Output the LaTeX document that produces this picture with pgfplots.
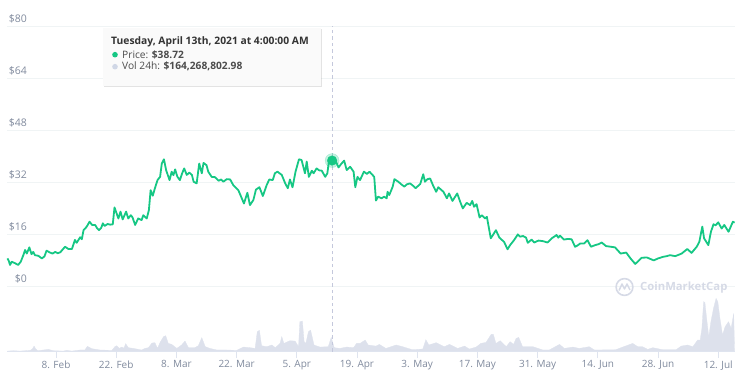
\documentclass[border=0pt]{standalone}
\usepackage{pgfplots}
\usepackage{fontspec}
\setmainfont{Open Sans}
\pgfplotsset{compat=1.18}
\usetikzlibrary{shadows}
\definecolor{cmcgreen}{HTML}{16C784}
\definecolor{axgray}{HTML}{808A9D}
\definecolor{gridc}{HTML}{F0F4F5}
\definecolor{volc}{HTML}{DDE1EC}
\definecolor{tickc}{HTML}{DFE4EF}
\definecolor{dashc}{HTML}{C4C8DC}
\definecolor{wm}{HTML}{D6DAE6}
\definecolor{voldot}{HTML}{D0D7E6}
\definecolor{tipbg}{HTML}{FAFAFA}
\begin{document}
\begin{tikzpicture}
\path[use as bounding box] (0pt,0pt) rectangle (753pt,385pt);
% volume axis
\begin{axis}[at={(7pt,33.3pt)},anchor=south west,scale only axis,width=728pt,height=325.3pt,
 xmin=-11.4,xmax=157.9,ymin=0,ymax=3643,axis lines=none,clip=true]
\addplot[fill=volc,draw=volc,line width=0.3pt] coordinates {
(-11.3,0)(-11.3,7)(-9.9,11)(-8.4,7)(-6.0,15)(-5.5,30)(-5.1,63)(-4.8,37)(-4.3,11)(-1.8,26)(-0.6,11)(1.7,7)(2.5,15)(3.7,7)(5.6,19)(6.7,19)(7.3,60)(8.3,34)(10.2,19)(13.0,15)(13.7,56)(14.1,67)(14.7,37)(15.3,52)(15.8,40)(16.2,90)(16.8,45)(18.0,37)(19.9,19)(20.7,37)(21.5,45)(22.3,97)(23.0,101)(23.6,37)(24.2,104)(25.0,168)(25.5,179)(26.1,93)(26.9,82)(28.1,37)(29.2,75)(30.0,119)(30.8,45)(32.3,45)(33.1,67)(33.9,157)(34.7,56)(35.8,37)(37.4,19)(39.7,19)(42.0,15)(43.6,52)(45.1,45)(46.3,37)(46.8,224)(47.3,239)(47.8,67)(49.0,56)(50.2,75)(51.0,45)(52.1,93)(52.5,168)(53.0,93)(54.4,123)(55.6,119)(56.4,56)(56.7,336)(57.3,343)(57.7,112)(58.1,93)(58.7,224)(59.2,242)(60.0,75)(61.4,52)(63.3,56)(64.0,160)(64.7,45)(66.0,37)(67.6,52)(69.2,45)(69.9,93)(70.7,93)(71.9,130)(72.6,75)(74.4,63)
(75.2,82)(76.7,37)(79.1,75)(80.6,56)(82.9,22)(85.3,30)(86.0,134)(86.7,75)(88.4,101)(90.3,56)(91.5,82)(93.4,37)(95.0,63)(96.1,30)(97.7,52)(98.8,93)(100.0,104)(101.2,194)(101.7,194)(102.3,93)(103.3,123)(104.7,56)(105.6,112)(106.4,82)(107.0,149)(107.6,160)(108.5,56)(110.9,56)(113.2,19)(114.7,19)(117.1,82)(118.2,37)(120.2,52)(121.7,37)(124.0,56)(125.2,19)(130.2,22)(131.4,45)(134.1,93)(135.3,56)(136.4,56)(137.6,26)(138.8,45)(141.1,22)(144.2,22)(145.4,63)(146.9,75)(148.1,56)(149.2,130)(149.8,130)(150.2,261)(150.6,560)(150.9,552)(151.3,373)(151.8,168)(152.3,336)(152.9,485)(153.5,597)(153.9,560)(154.4,373)(155.0,187)(155.6,280)(156.4,336)(157.0,261)(157.6,429)(157.8,0)};
\end{axis}
% price axis
\begin{axis}[at={(7pt,33.3pt)},anchor=south west,scale only axis,width=728pt,height=325.3pt,
 xmin=-11.4,xmax=157.9,ymin=-20.1,ymax=80,
 axis x line=bottom,axis y line=none,
 axis line style={draw=tickc,-},
 xtick={0,14,28,42,56,70,84,98,112,126,140,154},
 xticklabels={8. Feb,22. Feb,8. Mar,22. Mar,5. Apr,19. Apr,3. May,17. May,31. May,14. Jun,28. Jun,12. Jul},
 xticklabel style={font=\fontsize{10}{12}\selectfont,text=axgray,yshift=1pt},
 x tick style={draw=tickc,line width=0.8pt},
 tick align=outside,major tick length=6.5pt,
 clip=false]
\foreach \v/\l in {0/0,16/16,32/32,48/48,64/64,80/80}{
 \edef\tmp{\noexpand\draw[gridc,line width=0.8pt] (axis cs:-11.4,\v) -- (axis cs:157.9,\v);
 \noexpand\node[anchor=south east,inner sep=0pt,font=\noexpand\fontsize{10.5}{12}\noexpand\selectfont,text=axgray] at ([xshift=20pt,yshift=3pt]axis cs:-11.4,\v) {\noexpand\$\l};}
 \tmp
}
\addplot[dashc,line width=0.9pt,dash pattern=on 3.5pt off 3pt] coordinates {(64.2,-20.1)(64.2,80)};
\addplot[cmcgreen,line width=1.8pt,line join=round] coordinates {
(-11.3,8.6)(-11.0,7.9)(-10.7,6.6)(-10.3,7.6)(-9.5,7.1)(-8.8,6.6)(-8.2,7.6)(-7.6,9.6)(-7.2,11.2)(-6.8,10.1)(-6.2,12.0)(-5.7,9.9)(-5.3,10.6)(-4.9,9.6)(-4.1,9.4)(-3.3,8.6)(-2.7,9.2)(-2.2,11.0)(-1.4,10.4)(-0.8,10.1)(-0.2,10.6)(0.4,10.2)(1.0,10.5)(2.1,12.2)(2.9,11.5)(3.7,11.5)(4.4,14.3)(4.8,13.4)(5.6,15.1)(6.0,14.5)(6.4,17.3)(7.1,18.3)(7.8,19.9)(8.4,18.9)(9.1,18.9)(9.5,18.0)(10.0,17.3)(10.5,18.0)(10.9,19.4)(11.3,18.6)(12.0,19.2)(12.6,19.0)(13.2,19.1)(13.6,24.3)(14.5,20.9)(15.0,23.0)(15.5,20.6)(16.3,23.0)(16.8,20.9)(17.4,21.9)(17.8,21.2)(18.4,18.9)(19.1,20.9)(19.9,20.4)(20.3,21.9)(21.1,20.9)(21.6,23.5)(22.0,29.6)(22.5,27.9)(23.0,30.2)(23.6,32.7)(24.2,33.7)(24.6,37.8)(25.1,39.1)(25.6,35.8)(26.4,32.7)(26.9,35.3)(27.3,34.2)(27.7,36.0)(28.2,33.8)(28.8,32.7)(29.3,34.7)(29.8,36.3)(30.4,34.3)(31.0,35.0)(31.6,34.3)(32.0,32.2)(32.7,31.7)(33.3,37.8)(33.9,34.8)(34.3,38.0)(35.0,37.3)(35.4,35.3)(36.2,33.7)(37.0,33.6)(37.8,32.5)(38.4,32.9)(38.9,32.2)(39.7,33.0)(40.5,32.9)(41.2,31.2)(42.4,29.6)(43.2,27.1)(43.7,25.5)(44.5,28.8)(45.1,25.0)
(45.9,26.6)(46.5,29.8)(47.3,30.5)(48.1,27.8)(49.0,31.2)(49.6,32.9)(50.4,32.7)(50.9,34.8)(51.5,35.3)(52.5,34.3)(53.3,31.7)(53.9,30.2)(54.4,32.9)(55.0,30.5)(55.7,35.3)(56.5,39.1)(57.1,38.9)(57.9,34.8)(58.3,38.4)(58.8,33.7)(59.5,35.6)(59.9,34.8)(60.6,36.3)(61.2,35.7)(61.8,35.6)(62.6,33.7)(63.1,34.8)(63.5,38.9)(64.2,38.72)(65.1,38.4)(65.7,36.6)(66.4,37.8)(67.0,38.7)(67.6,35.8)(68.4,36.8)(69.2,35.3)(69.6,30.5)(70.1,33.7)(70.7,32.7)(71.6,35.3)(72.3,34.6)(72.9,35.3)(74.0,33.7)(74.4,26.4)(74.9,27.6)(75.7,27.1)(76.3,27.6)(76.9,27.1)(77.1,29.1)(77.5,28.1)(78.3,30.7)(78.7,33.0)(79.6,32.2)(80.3,31.4)(81.0,30.7)(81.6,31.4)(82.3,31.7)(83.0,31.0)(83.6,30.2)(84.7,31.5)(85.4,34.5)(85.8,32.2)(86.4,33.0)(87.0,33.2)(87.7,31.0)(88.4,29.1)(88.9,30.5)(90.1,29.1)(90.9,27.1)(91.4,28.6)(92.2,26.3)(93.3,28.6)(94.0,26.0)(94.6,24.0)(95.5,25.7)(96.3,25.0)(96.8,26.3)(97.2,24.5)(97.8,25.3)(98.5,21.2)(99.0,21.9)(99.8,20.9)(100.2,21.4)(101.1,14.8)(101.7,16.0)(102.3,17.3)(103.1,15.0)
(103.6,14.4)(104.2,13.7)(105.0,11.4)(105.6,12.7)(106.5,14.2)(107.4,16.0)(107.9,15.3)(108.6,15.5)(109.3,15.0)(109.7,13.4)(110.6,14.4)(111.2,13.5)(112.2,14.1)(113.3,13.9)(114.3,13.5)(115.3,14.8)(116.4,15.8)(116.8,15.0)(117.2,15.6)(118.1,14.4)(119.0,14.6)(119.9,14.5)(120.7,12.2)(121.3,12.6)(121.9,13.2)(122.8,13.2)(123.6,14.2)(124.4,12.2)(125.4,12.7)(126.2,13.0)(126.9,13.5)(127.9,12.4)(129.0,12.2)(130.0,12.0)(131.3,10.1)(132.6,10.4)(133.6,8.6)(134.7,6.9)(135.5,7.9)(136.2,8.8)(137.4,8.9)(139.0,8.0)(140.0,8.6)(141.2,9.1)(142.0,9.3)(142.8,9.6)(144.0,9.3)(145.5,10.1)(146.8,11.5)(147.8,10.3)(149.0,12.2)(149.6,13.7)(150.3,18.4)(150.7,14.8)(151.7,12.7)(152.3,16.8)(152.9,19.1)(153.4,18.8)(154.0,19.7)(154.8,17.8)(155.4,18.9)(156.4,16.8)(157.4,19.9)(157.8,19.6)};
\addplot[cmcgreen,opacity=0.25,only marks,mark=*,mark size=7pt] coordinates {(64.2,38.72)};
\addplot[cmcgreen,only marks,mark=*,mark size=4.8pt] coordinates {(64.2,38.72)};
\end{axis}
% tooltip
\node[anchor=north west,draw=none,fill=tipbg,minimum width=218pt,minimum height=58pt,drop shadow={shadow xshift=0.8pt,shadow yshift=-1pt,opacity=0.22}] at (103pt,357pt) {};
\node[anchor=west,inner sep=0pt,font=\fontsize{10.3}{12}\selectfont\bfseries,text=black!80] at (111pt,342.7pt) {Tuesday, April 13th, 2021 at 4:00:00 AM};
\fill[cmcgreen] (115pt,330.3pt) circle (2.8pt);
\node[anchor=west,inner sep=0pt,font=\fontsize{10.2}{12}\selectfont,text=black!70] at (122pt,330.3pt) {Price: \textbf{\$38.72}};
\fill[voldot] (115pt,318.3pt) circle (2.8pt);
\node[anchor=west,inner sep=0pt,font=\fontsize{10.2}{12}\selectfont,text=black!70] at (122pt,318.3pt) {Vol 24h: \textbf{\$164,268,802.98}};
% watermark
\draw[wm,line width=1.6pt] (624.5pt,98pt) circle (8.4pt);
\draw[wm,line width=1.5pt,line join=round] (619pt,94.5pt) -- (622pt,101pt) -- (624.5pt,96pt) -- (627pt,101pt) -- (630pt,95pt);
\node[anchor=west,inner sep=0pt,font=\fontsize{11.3}{14}\selectfont\bfseries,text=wm] at (640pt,97.5pt) {CoinMarketCap};
\end{tikzpicture}
\end{document}
